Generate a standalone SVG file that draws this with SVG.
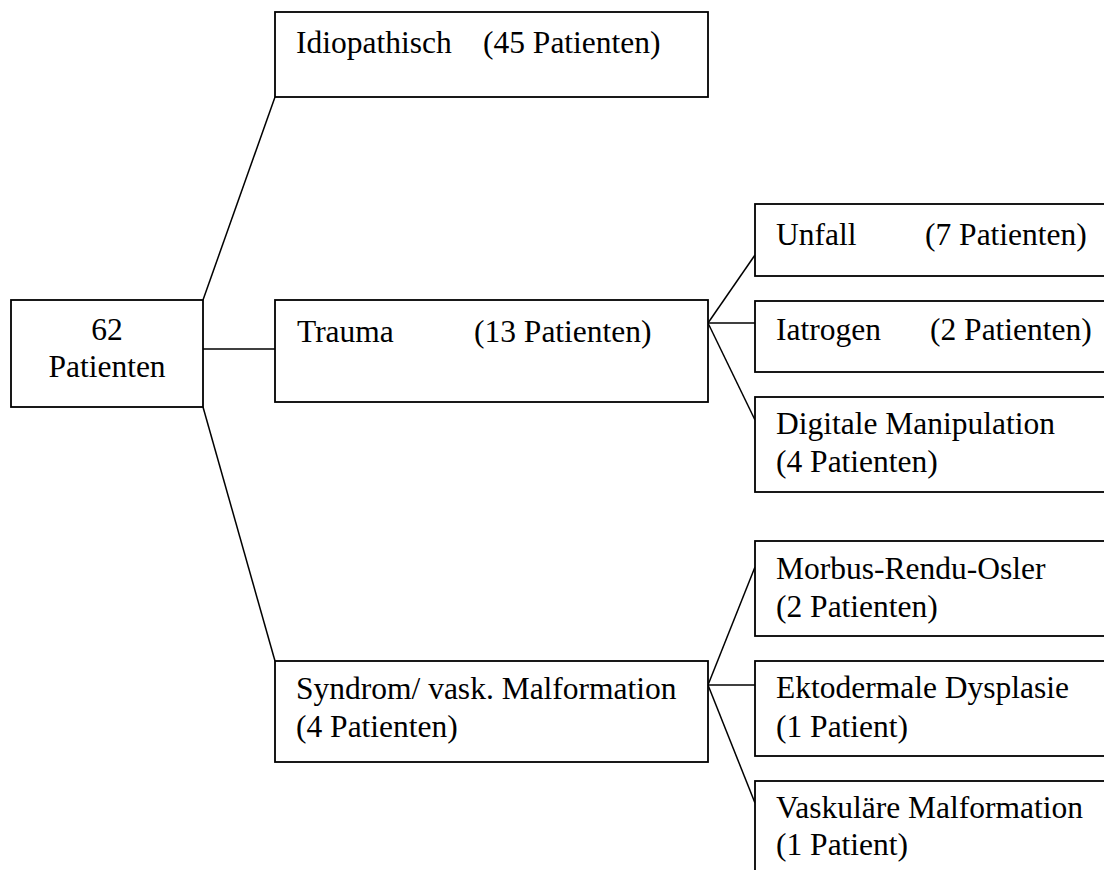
<svg xmlns="http://www.w3.org/2000/svg" width="1104" height="870" viewBox="0 0 1104 870">
<style>
.box{fill:#fff;stroke:#000;stroke-width:1.8}
.ln{stroke:#000;stroke-width:1.5;fill:none}
.t{font-family:'Liberation Serif','Times New Roman',Tinos,'DejaVu Serif',serif;font-size:31.5px;fill:#000}
</style>
<rect width="1104" height="870" fill="#fff"/>
<g id="connectors">
<line class="ln" x1="203" y1="300" x2="275" y2="97"/>
<line class="ln" x1="203" y1="349" x2="275" y2="349"/>
<line class="ln" x1="203" y1="407" x2="275" y2="661"/>
<line class="ln" x1="708" y1="323" x2="755" y2="255"/>
<line class="ln" x1="708" y1="323" x2="755" y2="323"/>
<line class="ln" x1="708" y1="323" x2="755" y2="420"/>
<line class="ln" x1="708" y1="685" x2="755" y2="567"/>
<line class="ln" x1="708" y1="685" x2="755" y2="685"/>
<line class="ln" x1="708" y1="685" x2="755" y2="803"/>
</g>
<g id="root">
<rect class="box" x="11" y="300" width="192" height="107"/>
<text class="t" x="107" y="340" text-anchor="middle">62</text>
<text class="t" x="107" y="377" text-anchor="middle">Patienten</text>
</g>
<g id="idiopathisch">
<rect class="box" x="275" y="12" width="433" height="85"/>
<text class="t" y="53"><tspan x="296">Idiopathisch</tspan><tspan x="483">(45 Patienten)</tspan></text>
</g>
<g id="trauma">
<rect class="box" x="275" y="300" width="433" height="102"/>
<text class="t" y="342"><tspan x="297">Trauma</tspan><tspan x="474">(13 Patienten)</tspan></text>
</g>
<g id="syndrom">
<rect class="box" x="275" y="661" width="433" height="101"/>
<text class="t" x="296" y="699">Syndrom/ vask. Malformation</text>
<text class="t" x="296" y="737">(4 Patienten)</text>
</g>
<g id="unfall">
<rect class="box" x="755" y="204" width="360" height="72"/>
<text class="t" y="245"><tspan x="776">Unfall</tspan><tspan x="925">(7 Patienten)</tspan></text>
</g>
<g id="iatrogen">
<rect class="box" x="755" y="301" width="360" height="71"/>
<text class="t" y="340"><tspan x="776">Iatrogen</tspan><tspan x="930">(2 Patienten)</tspan></text>
</g>
<g id="digitale">
<rect class="box" x="755" y="397" width="360" height="95"/>
<text class="t" x="776" y="434">Digitale Manipulation</text>
<text class="t" x="776" y="472">(4 Patienten)</text>
</g>
<g id="morbus">
<rect class="box" x="755" y="541" width="360" height="95"/>
<text class="t" x="776" y="579">Morbus-Rendu-Osler</text>
<text class="t" x="776" y="617">(2 Patienten)</text>
</g>
<g id="ektodermal">
<rect class="box" x="755" y="661" width="360" height="95"/>
<text class="t" x="776" y="698">Ektodermale Dysplasie</text>
<text class="t" x="776" y="737">(1 Patient)</text>
</g>
<g id="vaskulaer">
<rect class="box" x="755" y="781" width="360" height="100"/>
<text class="t" x="776" y="818">Vaskuläre Malformation</text>
<text class="t" x="776" y="855">(1 Patient)</text>
</g>
</svg>
